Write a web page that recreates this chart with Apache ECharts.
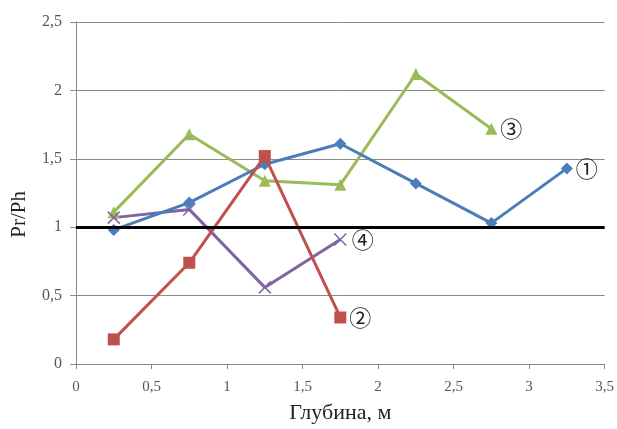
<!DOCTYPE html>
<html><head><meta charset="utf-8">
<script src="https://cdn.jsdelivr.net/npm/echarts@6/dist/echarts.min.js"></script>
<style>html,body{margin:0;padding:0;background:#fff}#c{width:617px;height:429px}</style>
</head><body><div id="c"></div>
<script>
// depths (m)
var depth1 = [0.25, 0.75, 1.25, 1.75, 2.25, 2.75, 3.25];
var depth2 = [0.25, 0.75, 1.25, 1.75];
var depth3 = [0.25, 0.75, 1.25, 1.75, 2.25, 2.75];
var depth4 = [0.25, 0.75, 1.25, 1.75];
// Pr/Ph values
var s1 = [0.98, 1.18, 1.46, 1.61, 1.32, 1.03, 1.43];
var s2 = [0.18, 0.74, 1.52, 0.34];
var s3 = [1.11, 1.68, 1.34, 1.31, 2.12, 1.72];
var s4 = [1.07, 1.13, 0.56, 0.91];
var seriesLabels = ['①', '②', '③', '④'];
var refLine = 1;
var xTitle = 'Глубина, м';
var yTitle = 'Pr/Ph';

function pairs(xs, ys, lbl) {
  return ys.map(function (v, i) {
    var d = { value: [xs[i], v] };
    if (i === ys.length - 1) {
      d.label = { show: true, formatter: lbl };
    }
    return d;
  });
}
var comma = function (v) { return String(v).replace('.', ','); };
var lblStyle = { position: 'right', distance: 3, fontSize: 22, color: '#222', fontFamily: '"Noto Sans CJK SC"' };

var chart = echarts.init(document.getElementById('c'), null, { renderer: 'canvas' });
chart.setOption({
  animation: false,
  backgroundColor: '#fff',
  grid: { left: 76, right: 11, top: 22, bottom: 61, containLabel: false },
  xAxis: {
    type: 'value', min: 0, max: 3.5, interval: 0.5,
    name: xTitle, nameLocation: 'middle', nameGap: 38,
    nameTextStyle: { fontFamily: 'Liberation Serif', fontSize: 22, color: '#222' },
    axisLine: { show: true, lineStyle: { color: '#8a8a8a', width: 1 } },
    axisTick: { show: true, length: 5, lineStyle: { color: '#8a8a8a' } },
    axisLabel: { formatter: comma, fontFamily: 'Liberation Serif', fontSize: 15, color: '#555', margin: 16 },
    splitLine: { show: false }
  },
  yAxis: {
    type: 'value', min: 0, max: 2.5, interval: 0.5,
    axisLine: { show: true, lineStyle: { color: '#8a8a8a', width: 1 } },
    axisTick: { show: true, length: 6, lineStyle: { color: '#8a8a8a' } },
    axisLabel: { formatter: comma, fontFamily: 'Liberation Serif', fontSize: 16, color: '#555', margin: 14 },
    splitLine: { show: true, lineStyle: { color: '#8a8a8a', width: 1 } }
  },
  graphic: [{
    type: 'text', left: 9, top: 191, rotation: Math.PI / 2,
    style: { text: yTitle, font: '21px "Liberation Serif"', fill: '#222' }
  }],
  series: [
    {
      type: 'line', data: pairs(depth1, s1, seriesLabels[0]), symbol: 'diamond', symbolSize: 12,
      lineStyle: { color: '#4A7EBB', width: 3 }, itemStyle: { color: '#4A7EBB' }, label: lblStyle, z: 3,
      markLine: {
        silent: true, symbol: 'none', label: { show: false },
        lineStyle: { color: '#000', width: 3, type: 'solid' },
        data: [{ yAxis: refLine }]
      }
    },
    {
      type: 'line', data: pairs(depth2, s2, seriesLabels[1]), symbol: 'rect', symbolSize: 12,
      lineStyle: { color: '#C0504D', width: 3 }, itemStyle: { color: '#C0504D' }, label: lblStyle, z: 4
    },
    {
      type: 'line', data: pairs(depth3, s3, seriesLabels[2]), symbol: 'triangle', symbolSize: 12,
      lineStyle: { color: '#9BBB59', width: 3 }, itemStyle: { color: '#9BBB59' }, label: lblStyle, z: 2
    },
    {
      type: 'line', data: pairs(depth4, s4, seriesLabels[3]), symbol: 'path://M0,0L10,10M10,0L0,10', symbolSize: 12,
      lineStyle: { color: '#8064A2', width: 3 }, itemStyle: { color: 'none', borderColor: '#8064A2', borderWidth: 1.5 }, label: lblStyle, z: 2
    }
  ]
});
</script></body></html>
